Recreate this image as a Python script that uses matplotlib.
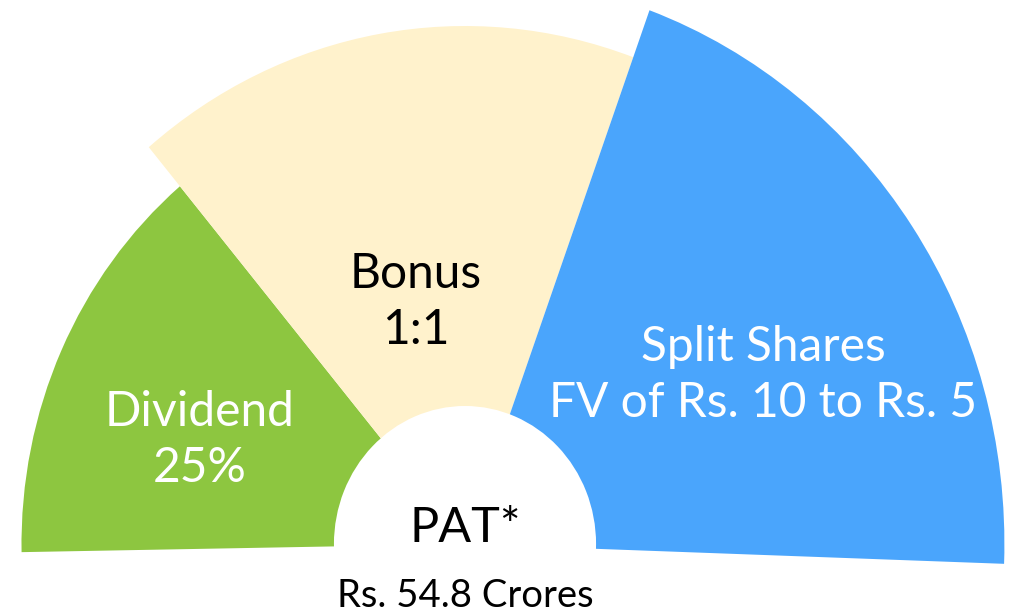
import matplotlib.pyplot as plt
from matplotlib.patches import Wedge

# wedge data (angles in degrees, radius in px-like units)
labels = ['Dividend\n25%', 'Bonus\n1:1', 'Split Shares\nFV of Rs. 10 to Rs. 5']
theta_start = [130, 70, -2]
theta_end = [181, 130, 70]
radius = [467, 518, 568]
colors = ['#8DC640', '#FFF2CC', '#4AA5FC']
text_colors = ['white', 'black', 'white']
label_pos = [(-279, 104), (-52, 242), (314, 169)]

center_title = 'PAT*'
center_value = 'Rs. 54.8 Crores'
inner_radius = 138

plt.rcParams['font.family'] = ['Lato', 'DejaVu Sans']

fig = plt.figure(figsize=(10.17, 6.16), dpi=100)
ax = fig.add_axes([0, 0, 1, 1])

for i in range(len(labels)):
    w = Wedge((0, 0), radius[i], theta_start[i], theta_end[i],
              facecolor=colors[i], edgecolor='none')
    ax.add_patch(w)
    ax.text(label_pos[i][0], label_pos[i][1], labels[i], color=text_colors[i],
            fontsize=34.5, ha='center', va='center', linespacing=1.35)

# white hole in the middle
hole = Wedge((0, 0), inner_radius, 0, 360, facecolor='white', edgecolor='none')
ax.add_patch(hole)
ax.text(0, 16, center_title, fontsize=35, ha='center', va='center')
ax.text(0, -52, center_value, fontsize=27.5, ha='center', va='center')

# picture is slightly squashed sideways
sx = 1.053
ax.set_xlim(-465 * sx, (1017 - 465) * sx)
ax.set_ylim(544 - 616, 544)
ax.axis('off')

fig.savefig('out.png', dpi=100, facecolor='white')
